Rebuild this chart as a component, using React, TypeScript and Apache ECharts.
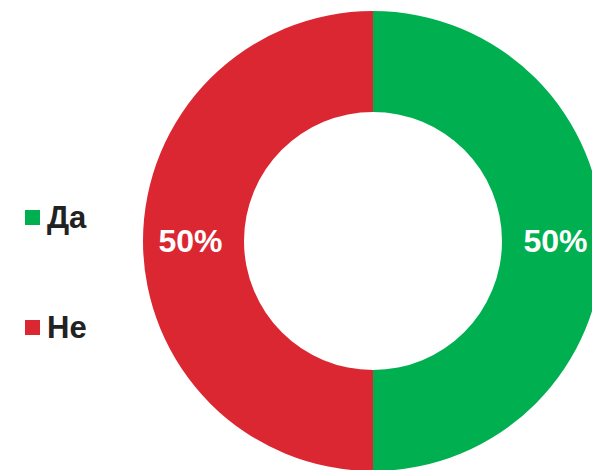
import React, { useEffect, useRef } from "react";
import * as echarts from "echarts";

const categories = ["Да", "Не"];
const values = [50, 50];
const colors = ["#00B050", "#DA2732"];

export default function App() {
  const ref = useRef<HTMLDivElement>(null);
  useEffect(() => {
    document.body.style.margin = "0";
    const chart = echarts.init(ref.current!, undefined, { renderer: "svg" });
    chart.setOption({
      animation: false,
      color: colors,
      legend: {
        orient: "vertical",
        left: 25,
        top: 202,
        padding: 0,
        itemWidth: 15,
        itemHeight: 15,
        itemGap: 79,
        icon: "rect",
        selectedMode: false,
        textStyle: {
          fontFamily: "Liberation Sans, Arial, sans-serif",
          fontSize: 31,
          fontWeight: "bold",
          color: "#222222",
          lineHeight: 30,
          padding: [0, 0, 0, 2],
        },
        data: categories,
      },
      series: [
        {
          type: "pie",
          center: [373, 241],
          radius: [129, 230],
          startAngle: 90,
          clockwise: true,
          silent: true,
          label: {
            show: true,
            position: "inside",
            formatter: "{d}%",
            fontFamily: "Liberation Sans, Arial, sans-serif",
            fontSize: 32,
            fontWeight: "bold",
            color: "#ffffff",
          },
          labelLine: { show: false },
          emphasis: { disabled: true },
          data: categories.map((c, i) => ({ name: c, value: values[i] })),
        },
      ],
    });
    return () => chart.dispose();
  }, []);
  return <div ref={ref} style={{ width: 592, height: 470 }} />;
}
